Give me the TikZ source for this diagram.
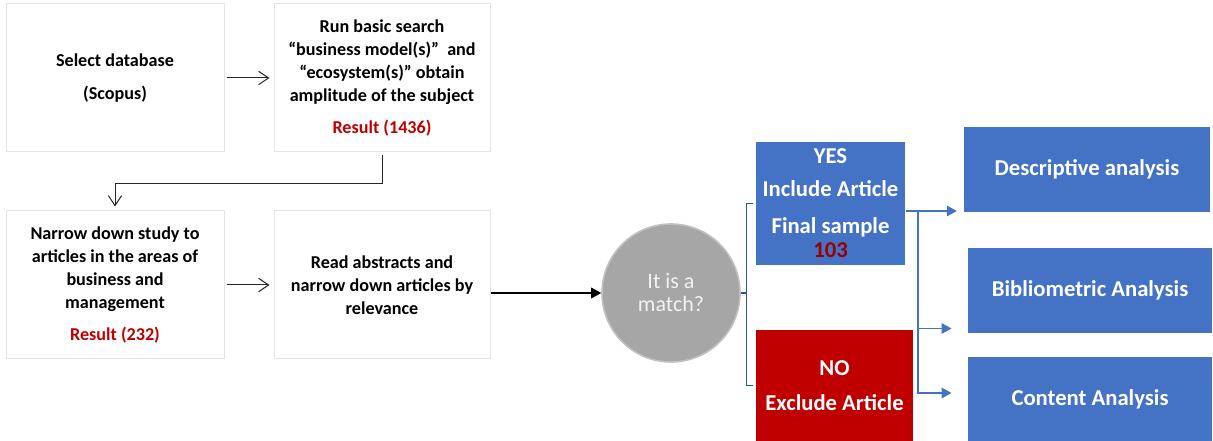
\documentclass[tikz,border=0pt]{standalone}
\usepackage{fontspec}
\setmainfont{Carlito}
\usetikzlibrary{arrows.meta,positioning}

\definecolor{boxblue}{HTML}{4472C4}
\definecolor{boxred}{HTML}{C00000}
\definecolor{resultred}{HTML}{C00000}
\definecolor{darkred}{HTML}{9A0000}
\definecolor{bracketblue}{HTML}{2F5597}
\definecolor{edgegray}{HTML}{E4E4E4}
\definecolor{circlegray}{HTML}{A6A6A6}

\begin{document}
\begin{tikzpicture}
  [
  x=0.75pt, y=-0.75pt, line width=0.75pt,
  font=\bfseries\fontsize{13.6}{17.25}\selectfont,
  stage/.style={rectangle, minimum width=163.5pt, minimum height=111pt, inner sep=0pt, draw=edgegray, fill=white, align=center},
  decision/.style={circle, minimum size=103.5pt, inner sep=0pt, draw=circlegray!70!white, line width=1.2pt, fill=circlegray, text=white!95!black, align=center, font=\mdseries\fontsize{16.5}{17.25}\selectfont},
  yesbox/.style={rectangle, minimum width=111.75pt, minimum height=92.25pt, inner sep=0pt, fill=boxblue, text=white, align=center, font=\bfseries\fontsize{17}{18}\selectfont},
  nobox/.style={rectangle, minimum width=117.75pt, minimum height=83.25pt, inner sep=0pt, fill=boxred, text=white, align=center, font=\bfseries\fontsize{17}{18}\selectfont},
  analysis/.style={rectangle, minimum width=184.5pt, minimum height=63.75pt, inner sep=0pt, fill=boxblue, text=white, font=\bfseries\fontsize{17}{18}\selectfont},
  thinarrow/.style={draw=black!85, line width=0.75pt, -{Straight Barb[length=7.5pt,width=10pt]}},
  flowarrow/.style={draw=black, line width=1pt, -{Triangle[length=7.5pt,width=8pt]}},
  bracket/.style={draw=bracketblue, line width=1.2pt},
  branch/.style={draw=boxblue, line width=0.9pt, -{Triangle[length=7.5pt,width=8pt]}}
  ]

\useasboundingbox (0,0) rectangle (1213,441);

\node[stage] (select) at (115,78) {Select database\\[7.5pt](Scopus)};
\node[stage, minimum width=162pt] (search) at (382,78) {Run basic search\\“business model(s)”\ \ and\\“ecosystem(s)” obtain\\amplitude of the subject\\[7pt]\textcolor{resultred}{Result (1436)}};
\node[stage] (narrow) at (115,285) {Narrow down study to\\articles in the areas of\\business and\\management\\[7pt]\textcolor{resultred}{Result (232)}};
\node[stage, minimum width=162pt] (read) at (382,285) {Read abstracts and\\narrow down articles by\\relevance};

\node[decision] (match) at (671,293) {It is a\\match?};

\node[yesbox] (yes) at (830.5,203.5) {YES\\[6.75pt]Include Article\\[9.75pt]Final sample\\\textcolor{darkred}{103}};
\node[nobox] (no) at (834.5,385.5) {NO\\[8pt]Exclude Article};

\node[analysis] (desc) at (1087,169.5) {Descriptive analysis};
\node[analysis, minimum width=183pt] (biblio) at (1090,290.5) {Bibliometric Analysis};
\node[analysis, minimum width=183pt, minimum height=63pt] (content) at (1090,399) {Content Analysis};

\draw[thinarrow, shorten <=1.5pt, shorten >=3pt] (select) -- (search);
\draw[thinarrow, shorten <=2pt, shorten >=3pt] (search.south) -- ++(0,31) -| (narrow.north);
\draw[thinarrow, shorten <=1.5pt, shorten >=3pt] (narrow) -- (read);
\draw[flowarrow] (read.east |- match) -- (match);

\draw[bracket] (match.east) -- ++(5,0);
\draw[bracket] ([xshift=-2.25pt]yes.west) -- ++(-6,0) |- ([xshift=-2.25pt]no.west);

\coordinate (fork) at (918,211);
\draw[branch] (yes.east |- fork) -- (fork) -- ([xshift=-5pt]fork -| desc.west);
\draw[branch] (fork) |- ([shift={(-12pt,3.75pt)}]biblio.south west);
\draw[branch] (fork) |- ([shift={(-12pt,4.5pt)}]content.west);

\end{tikzpicture}
\end{document}
